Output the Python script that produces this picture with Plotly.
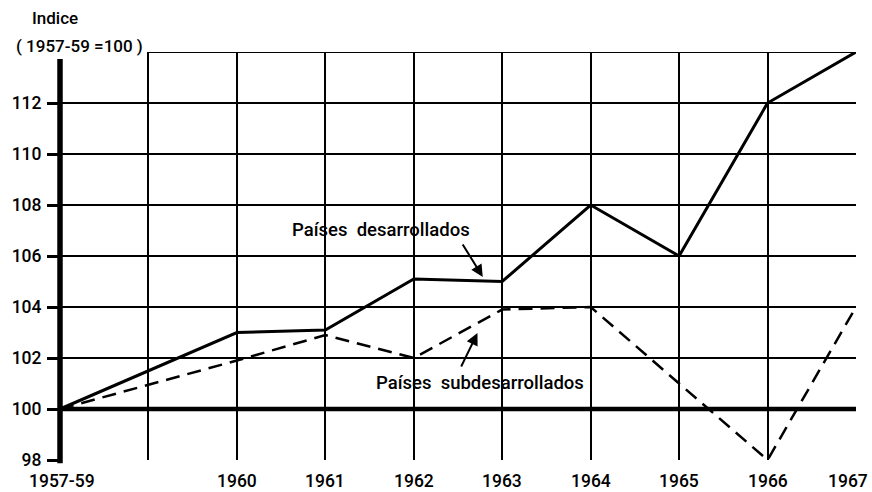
import plotly.graph_objects as go

# Data
periods = ["1957-59", "", "1960", "1961", "1962", "1963", "1964", "1965", "1966", "1967"]
period_pos = list(range(len(periods)))
data_periods = ["1957-59", "1960", "1961", "1962", "1963", "1964", "1965", "1966", "1967"]
desarrollados = [100.0, 103.0, 103.1, 105.1, 105.0, 108.0, 106.0, 112.0, 114.0]
subdesarrollados = [100.0, 101.9, 102.9, 102.0, 103.9, 104.0, 101.0, 98.0, 104.0]
y_ticks = [98, 100, 102, 104, 106, 108, 110, 112]

x_data = [periods.index(p) for p in data_periods]

FONT = "Roboto"
TXT = dict(family=FONT, size=17, color="black", weight=500)
TXT_TICK = dict(family=FONT, size=17.5, color="black", weight=500)
TXT_LBL = dict(family=FONT, size=18.5, color="black", weight=500)

fig = go.Figure()
fig.add_trace(go.Scatter(x=x_data, y=desarrollados, mode="lines",
                         line=dict(color="black", width=3), cliponaxis=False,
                         name="Países desarrollados", showlegend=False))
fig.add_trace(go.Scatter(x=x_data, y=subdesarrollados, mode="lines",
                         line=dict(color="black", width=2.5, dash="14px,8px"), cliponaxis=False,
                         name="Países subdesarrollados", showlegend=False))

shapes = [
    dict(type="line", xref="x", yref="y", x0=1, x1=9, y0=114, y1=114,
         line=dict(color="black", width=1.8), layer="below"),
    dict(type="line", xref="x", yref="y", x0=0, x1=9, y0=100, y1=100,
         line=dict(color="black", width=4.5), layer="above"),
    dict(type="line", xref="paper", yref="paper", x0=0, x1=0, y0=-0.008, y1=0.983,
         line=dict(color="black", width=5.5), layer="above"),
]

annotations = [
    dict(text="Indice", xref="paper", yref="paper", x=-0.038, y=1.083,
         xanchor="left", yanchor="middle", showarrow=False, font=TXT),
    dict(text="( 1957-59 =100 )", xref="paper", yref="paper", x=-0.058, y=1.015,
         xanchor="left", yanchor="middle", showarrow=False, font=TXT),
    dict(text="Países  desarrollados", xref="x", yref="y", x=3.63, y=107.02,
         showarrow=False, font=TXT_LBL),
    dict(text="Países  subdesarrollados", xref="x", yref="y", x=4.75, y=101.02,
         showarrow=False, font=TXT_LBL),
    dict(text="", xref="x", yref="y", x=4.78, y=105.18, ax=-21, ay=-34,
         showarrow=True, arrowhead=2, arrowsize=1.2, arrowwidth=2, arrowcolor="black"),
    dict(text="", xref="x", yref="y", x=4.72, y=102.98, ax=-17, ay=35,
         showarrow=True, arrowhead=2, arrowsize=1.2, arrowwidth=2, arrowcolor="black"),
]

# x category labels (drawn as annotations so the last one stays inside the page)
last = len(periods) - 1
for pos, lab in zip(period_pos, periods):
    if not lab:
        continue
    ann = dict(text=lab, xref="x", yref="paper", x=pos, y=0, yshift=-21,
               yanchor="middle", showarrow=False, font=TXT_TICK, xanchor="center")
    if pos == last:
        ann.update(xanchor="right", xshift=14)
    elif pos == 0:
        ann.update(xshift=2)
    annotations.append(ann)

fig.update_layout(
    width=872, height=492,
    margin=dict(l=60, r=16, t=52, b=32),
    paper_bgcolor="white", plot_bgcolor="white",
    font=TXT,
    shapes=shapes, annotations=annotations,
    xaxis=dict(range=[0, 9], tickvals=period_pos, ticktext=periods, showticklabels=False,
               showgrid=True, gridcolor="black", gridwidth=1.8, automargin=False,
               showline=False, zeroline=False, ticks=""),
    yaxis=dict(range=[98, 114], tickvals=y_ticks, ticktext=[str(v) for v in y_ticks],
               showgrid=True, gridcolor="black", gridwidth=1.8, automargin=False,
               showline=False, zeroline=False, ticks="outside", ticklen=12, tickwidth=3,
               tickcolor="black", ticklabelstandoff=2, ticklabeloverflow="allow",
               tickfont=TXT_TICK),
)

fig.write_html("out.html", config={"displayModeBar": False},
               post_script="document.body.style.margin='0';document.body.style.overflow='hidden';")
